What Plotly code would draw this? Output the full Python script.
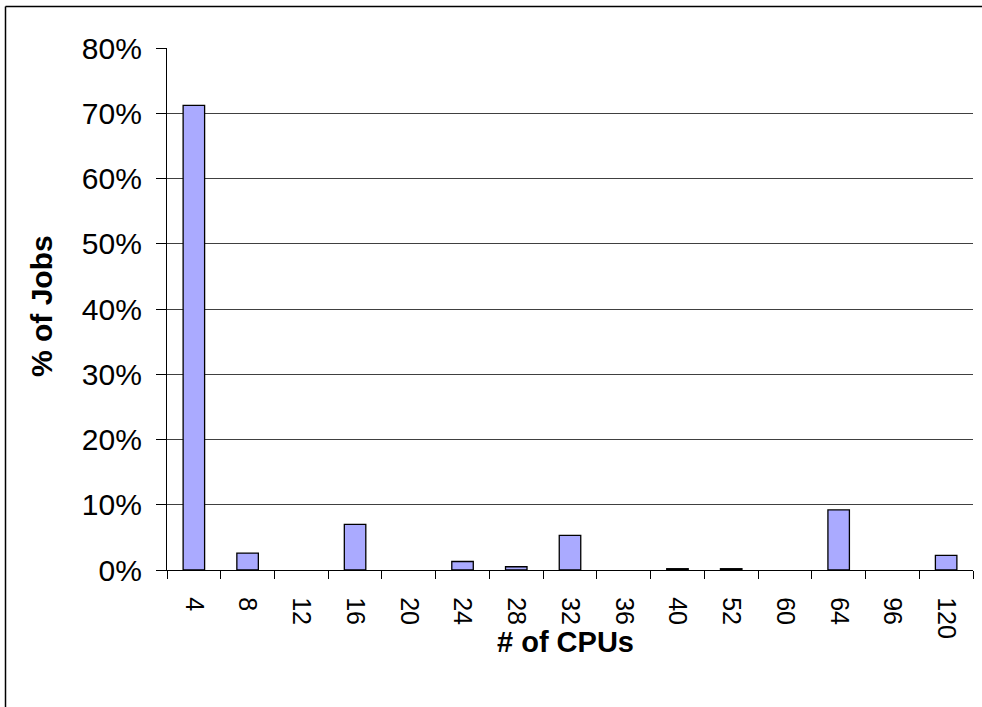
import plotly.graph_objects as go

cpus = ["4", "8", "12", "16", "20", "24", "28", "32", "36", "40", "52", "60", "64", "96", "120"]
pct_jobs = [0.712, 0.026, 0.0, 0.070, 0.0, 0.013, 0.005, 0.053, 0.0, 0.002, 0.002, 0.0, 0.092, 0.0, 0.0225]

FONT = "Liberation Sans, Arial, sans-serif"

# zero-valued categories have no visible bar in the reference
bar_vals = [v if v > 0 else None for v in pct_jobs]

fig = go.Figure(
    go.Bar(
        x=cpus,
        y=bar_vals,
        marker=dict(color="#AAAAFF", line=dict(color="#000000", width=1.3)),
        width=0.4,
        hoverinfo="skip",
    )
)

W, H = 982, 707
L, R, T, B = 167, 9, 48, 137
pw, ph = W - L - R, H - T - B

def px2paper_x(px):
    return (px - L) / pw

def px2paper_y(py):
    return (H - B - py) / ph

fig.update_layout(
    width=W,
    height=H,
    margin=dict(l=L, r=R, t=T, b=B, autoexpand=False),
    paper_bgcolor="white",
    plot_bgcolor="white",
    showlegend=False,
    bargap=0.6,
    font=dict(family=FONT, color="black"),
    xaxis=dict(
        type="category",
        tickangle=90,
        tickfont=dict(size=25, family=FONT),
        ticks="outside",
        ticklen=8,
        tickcolor="black",
        tickson="boundaries",
        ticklabelstandoff=21,
        showline=True,
        linecolor="black",
        linewidth=1.3,
        showgrid=False,
    ),
    yaxis=dict(
        range=[0, 0.8],
        dtick=0.1,
        tickformat=".0%",
        tickfont=dict(size=30, family=FONT),
        ticks="outside",
        ticklen=10,
        tickcolor="black",
        ticklabelstandoff=8,
        showline=True,
        linecolor="black",
        linewidth=1.3,
        showgrid=True,
        gridcolor="#404040",
        gridwidth=1,
        zeroline=False,
    ),
    annotations=[
        dict(text="<b># of CPUs</b>", xref="paper", yref="paper",
             x=px2paper_x(565), y=px2paper_y(642), xanchor="center", yanchor="middle",
             showarrow=False, font=dict(size=29, family=FONT)),
        dict(text="<b>% of Jobs</b>", xref="paper", yref="paper",
             x=px2paper_x(41), y=px2paper_y(306), xanchor="center", yanchor="middle",
             textangle=-90, showarrow=False, font=dict(size=30, family=FONT)),
    ],
    shapes=[
        dict(type="line", xref="paper", yref="paper",
             x0=px2paper_x(5.5), x1=px2paper_x(982), y0=px2paper_y(6.5), y1=px2paper_y(6.5),
             line=dict(color="black", width=1.5)),
        dict(type="line", xref="paper", yref="paper",
             x0=px2paper_x(5.5), x1=px2paper_x(5.5), y0=px2paper_y(6.5), y1=px2paper_y(707),
             line=dict(color="black", width=1.5)),
    ],
)

fig.write_html("out.html", config={"displayModeBar": False},
               post_script="document.body.style.margin='0';document.body.style.overflow='hidden';")
